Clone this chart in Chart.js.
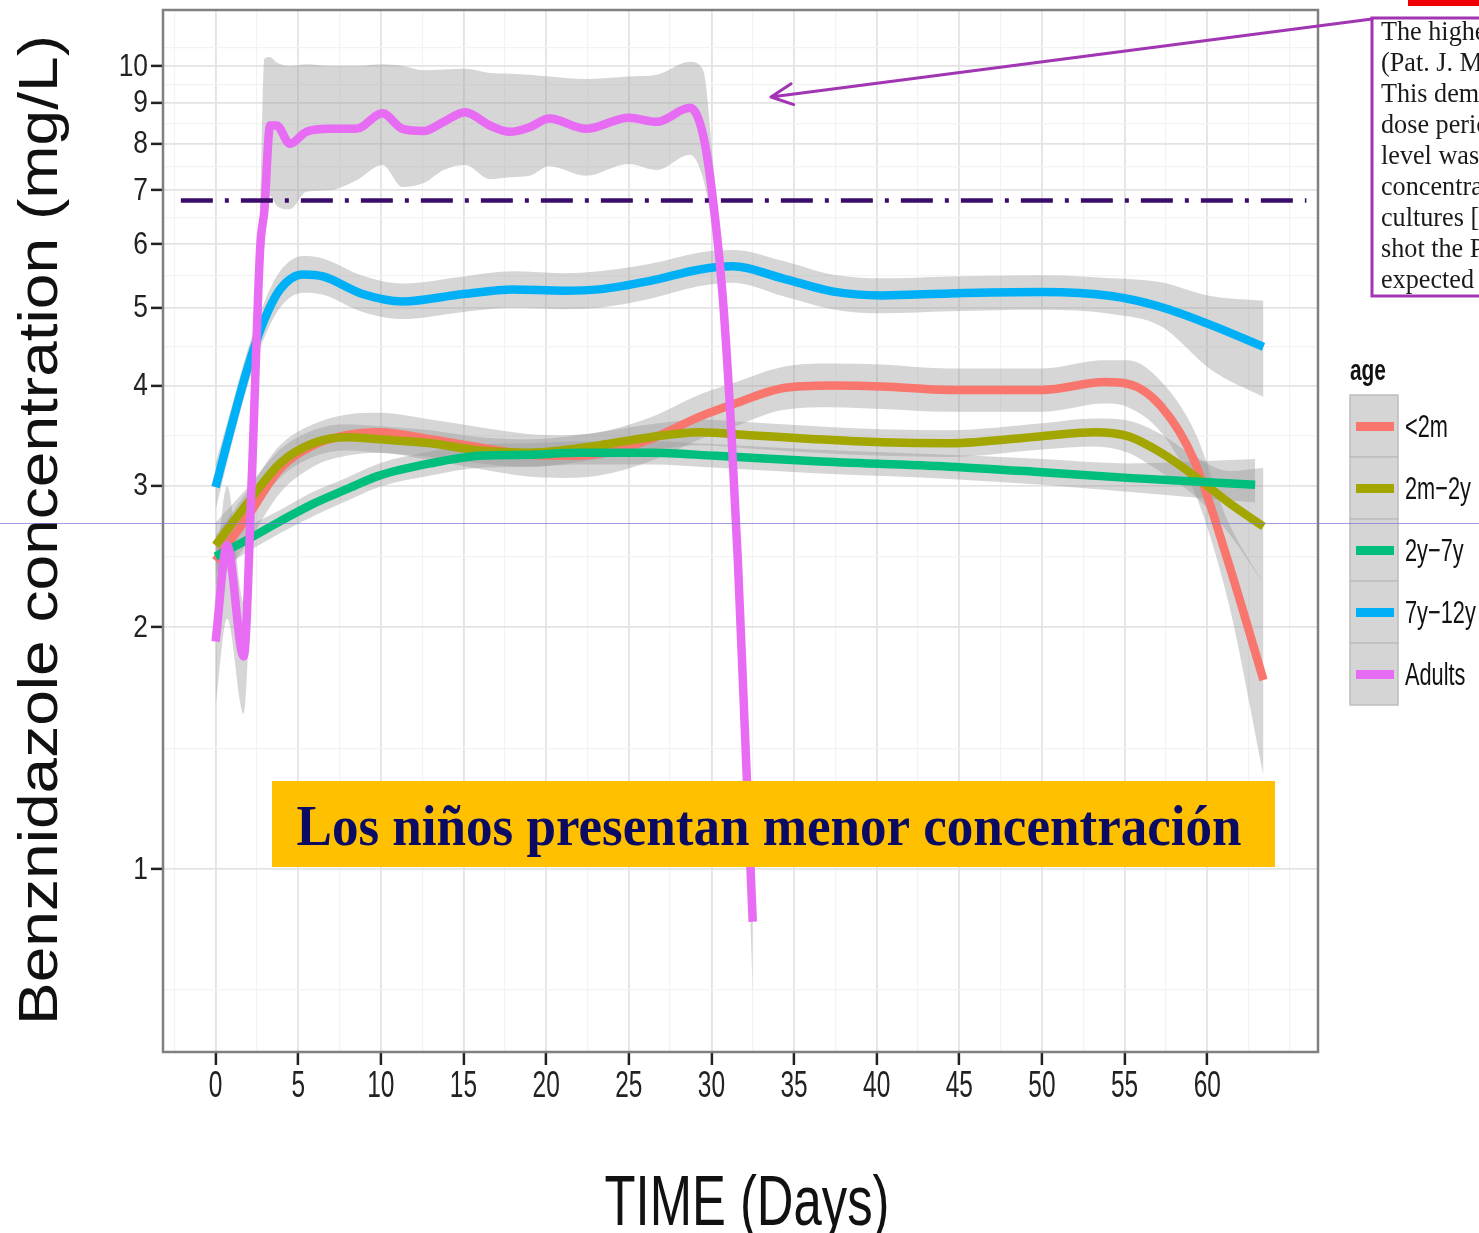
<!DOCTYPE html>
<html>
<head>
<meta charset="utf-8">
<script src="https://cdn.jsdelivr.net/npm/chart.js@4.4.1/dist/chart.umd.min.js"></script>
<style>
  html, body { margin: 0; padding: 0; background: #fff; }
  canvas { display: block; }
</style>
</head>
<body>
<canvas id="grafico" width="1479" height="1233"></canvas>
<script>
// grupos de edad y colores (paleta ggplot)
const grupos = ["<2m", "2m\u22122y", "2y\u22127y", "7y\u221212y", "Adults"];
const colores = ["#F8766D", "#A3A500", "#00BF7D", "#00B0F6", "#E76BF3"];

// <2m
const diasRojo = [0, 1.9, 3.9, 5.9, 7.9, 9.9, 13, 16, 19, 21, 23.2, 26.3, 29.3, 31.3, 34.3, 37.3, 40.3, 44.4, 50, 53.8, 55.2, 57.2, 59.2, 61.3, 63.4];
const rojo      = [2.42, 2.74, 3.15, 3.37, 3.47, 3.5, 3.43, 3.35, 3.28, 3.27, 3.29, 3.43, 3.66, 3.79, 3.97, 4.0, 3.99, 3.95, 3.95, 4.04, 4.02, 3.77, 3.23, 2.4, 1.72];
const rojoAlto  = [2.6, 2.95, 3.37, 3.58, 3.68, 3.7, 3.63, 3.55, 3.48, 3.47, 3.5, 3.65, 3.9, 4.03, 4.22, 4.26, 4.25, 4.2, 4.2, 4.3, 4.3, 4.05, 3.52, 2.7, 2.27];
const rojoBajo  = [2.25, 2.54, 2.94, 3.17, 3.27, 3.3, 3.23, 3.15, 3.08, 3.07, 3.09, 3.22, 3.43, 3.55, 3.73, 3.76, 3.74, 3.71, 3.71, 3.8, 3.76, 3.5, 2.96, 2.14, 1.31];

// 2m-2y
const diasOliva = [0, 1.9, 3.9, 5.9, 7.9, 9.9, 13, 16, 19, 23.2, 26.3, 29.3, 32.3, 36.3, 40.3, 44.4, 50, 53.2, 55.2, 57.2, 59.2, 61.3, 63.4];
const oliva      = [2.53, 2.85, 3.2, 3.39, 3.45, 3.43, 3.39, 3.32, 3.3, 3.37, 3.45, 3.5, 3.47, 3.43, 3.4, 3.39, 3.46, 3.5, 3.46, 3.3, 3.09, 2.86, 2.67];
const olivaAlto  = [2.7, 2.98, 3.33, 3.52, 3.58, 3.56, 3.52, 3.45, 3.43, 3.5, 3.58, 3.63, 3.6, 3.56, 3.53, 3.52, 3.59, 3.64, 3.62, 3.48, 3.27, 3.13, 3.16];
const olivaBajo  = [2.37, 2.72, 3.07, 3.26, 3.32, 3.3, 3.26, 3.2, 3.17, 3.24, 3.32, 3.37, 3.34, 3.3, 3.27, 3.26, 3.33, 3.36, 3.3, 3.12, 2.92, 2.62, 2.27];

// 2y-7y
const diasVerde = [0, 1.9, 3.9, 5.9, 7.9, 9.9, 13, 16, 19, 22, 26.3, 30.3, 36.3, 44.4, 50, 55.2, 62.9];
const verde      = [2.45, 2.57, 2.71, 2.85, 2.97, 3.09, 3.2, 3.27, 3.28, 3.3, 3.3, 3.27, 3.22, 3.17, 3.12, 3.07, 3.01];
const verdeAlto  = [2.56, 2.67, 2.8, 2.95, 3.07, 3.2, 3.31, 3.38, 3.39, 3.41, 3.41, 3.38, 3.33, 3.28, 3.24, 3.2, 3.24];
const verdeBajo  = [2.34, 2.48, 2.62, 2.75, 2.87, 2.99, 3.09, 3.16, 3.17, 3.19, 3.19, 3.16, 3.11, 3.06, 3.01, 2.95, 2.86];

// 7y-12y
const diasAzul = [0, 0.9, 1.9, 2.9, 3.9, 5.3, 6.5, 8.9, 11.3, 15, 18, 21, 23.2, 26.3, 29.3, 31.3, 34.3, 37.3, 40.3, 44.4, 50, 54.2, 57.2, 60.2, 63.4];
const azul      = [2.99, 3.52, 4.18, 4.8, 5.27, 5.5, 5.47, 5.2, 5.09, 5.2, 5.27, 5.25, 5.27, 5.4, 5.58, 5.63, 5.44, 5.24, 5.18, 5.21, 5.23, 5.17, 5.01, 4.76, 4.47];
const azulAlto  = [3.2, 3.72, 4.4, 5.05, 5.55, 5.8, 5.76, 5.48, 5.36, 5.47, 5.55, 5.52, 5.55, 5.67, 5.86, 5.9, 5.72, 5.5, 5.44, 5.47, 5.49, 5.44, 5.38, 5.17, 5.1];
const azulBajo  = [2.8, 3.33, 3.97, 4.56, 5.0, 5.22, 5.19, 4.94, 4.84, 4.94, 5.0, 4.98, 5.0, 5.13, 5.32, 5.37, 5.17, 4.98, 4.92, 4.95, 4.97, 4.91, 4.74, 4.19, 3.87];

// Adults
const diasRosa = [0, 0.7, 1.7, 2.2, 2.7, 2.95, 3.3, 3.7, 4.5, 5.5, 6.9, 8.5, 10.1, 11.3, 12.6, 13.8, 15.1, 16.6, 17.8, 19, 20.2, 22.4, 25, 26.7, 28.7, 29.5, 30.1, 30.7, 31.2, 31.6, 32, 32.5];
const rosa      = [1.92, 2.53, 1.84, 3.1, 5.94, 6.6, 8.43, 8.43, 8.0, 8.28, 8.35, 8.35, 8.73, 8.35, 8.3, 8.52, 8.76, 8.43, 8.28, 8.39, 8.6, 8.35, 8.62, 8.52, 8.87, 8.2, 6.8, 5.11, 3.52, 2.42, 1.53, 0.86];
const rosaAlto  = [2.3, 3.0, 2.15, 3.7, 6.6, 10.2, 10.26, 10.1, 10.0, 10.05, 10.0, 10.0, 10.05, 10.0, 9.88, 9.9, 9.92, 9.8, 9.78, 9.75, 9.7, 9.63, 9.7, 9.75, 10.12, 9.88, 7.6, 5.4, 3.7, 2.55, 1.6, 0.9];
const rosaBajo  = [1.58, 2.05, 1.56, 2.5, 5.3, 6.0, 6.89, 6.7, 6.63, 6.97, 7.0, 7.2, 7.53, 7.07, 7.15, 7.42, 7.53, 7.23, 7.27, 7.3, 7.5, 7.3, 7.55, 7.42, 7.75, 7.23, 6.2, 4.85, 3.35, 2.3, 1.45, 0.7];

// linea de referencia
const umbral = 6.8;
const diasUmbral = [-2.1, 66];

// ejes
const ticksX = [0, 5, 10, 15, 20, 25, 30, 35, 40, 45, 50, 55, 60];
const menoresX = [-2.5, 2.5, 7.5, 12.5, 17.5, 22.5, 27.5, 32.5, 37.5, 42.5, 47.5, 52.5, 57.5, 62.5, 65];
const ticksY = [1, 2, 3, 4, 5, 6, 7, 8, 9, 10];
const menoresY = [0.707, 1.414, 2.449, 3.464, 4.472, 5.477, 6.481, 7.483, 8.485, 9.487, 10.54];

const textoCaja = ["The highest", "(Pat. J. Mo", "This demonstrates", "dose period", "level was", "concentration", "cultures [4", "shot the P", "expected to"];

function puntos(xs, ys) {
    return xs.map((x, i) => ({ x: x, y: ys[i] }));
}

const series = [
    { label: grupos[0], color: colores[0], x: diasRojo, y: rojo, lo: rojoBajo, hi: rojoAlto, order: 5 },
    { label: grupos[1], color: colores[1], x: diasOliva, y: oliva, lo: olivaBajo, hi: olivaAlto, order: 4 },
    { label: grupos[2], color: colores[2], x: diasVerde, y: verde, lo: verdeBajo, hi: verdeAlto, order: 3 },
    { label: grupos[3], color: colores[3], x: diasAzul, y: azul, lo: azulBajo, hi: azulAlto, order: 2 },
    { label: grupos[4], color: colores[4], x: diasRosa, y: rosa, lo: rosaBajo, hi: rosaAlto, order: 1 }
];

const datasets = [];
series.forEach(s => {
    datasets.push({
        data: puntos(s.x, s.lo), borderColor: "rgba(0,0,0,0)", borderWidth: 1,
        pointRadius: 0, fill: false, order: 20, cubicInterpolationMode: "monotone"
    });
    datasets.push({
        data: puntos(s.x, s.hi), borderColor: "rgba(0,0,0,0)", borderWidth: 1,
        pointRadius: 0, fill: "-1", backgroundColor: "rgba(153,153,153,0.4)",
        order: 20, cubicInterpolationMode: "monotone"
    });
});
series.forEach(s => {
    datasets.push({
        label: s.label, esSerie: true, data: puntos(s.x, s.y),
        borderColor: s.color, borderWidth: 8.5, pointRadius: 0, fill: false,
        order: s.order, cubicInterpolationMode: "monotone", borderJoinStyle: "round"
    });
});
datasets.push({
    data: puntos(diasUmbral, [umbral, umbral]), borderColor: "#3b0d6b", borderWidth: 4.5,
    borderDash: [32, 12, 4, 12], pointRadius: 0, fill: false, order: -1
});

function texto(ctx, str, x, y, font, sx, align, color, base) {
    ctx.save();
    ctx.font = font;
    ctx.fillStyle = color;
    ctx.textAlign = align;
    ctx.textBaseline = base || "alphabetic";
    ctx.translate(x, y);
    ctx.scale(sx, 1);
    ctx.fillText(str, 0, 0);
    ctx.restore();
}

function textoAncho(ctx, str, x, y, font, ancho, color) {
    ctx.save();
    ctx.font = font;
    const w = ctx.measureText(str).width;
    ctx.restore();
    texto(ctx, str, x, y, font, ancho / w, "center", color);
}

const adornos = {
    id: "adornos",
    afterDraw(chart) {
        const ctx = chart.ctx;
        const a = chart.chartArea;
        const sx = chart.scales.x, sy = chart.scales.y;

        // borde del panel
        ctx.save();
        ctx.strokeStyle = "#808080";
        ctx.lineWidth = 2.5;
        ctx.strokeRect(a.left, a.top, a.right - a.left, a.bottom - a.top);
        ctx.restore();

        // etiquetas de los ejes
        ticksX.forEach(v => {
            texto(ctx, String(v), sx.getPixelForValue(v), 1097, "36px 'Liberation Sans', Arial", 0.68, "center", "#222");
        });
        ticksY.forEach(v => {
            texto(ctx, String(v), 148, sy.getPixelForValue(v) + 1, "31px 'Liberation Sans', Arial", 0.85, "right", "#222", "middle");
        });

        // titulos
        textoAncho(ctx, "TIME (Days)", 747, 1225, "70px 'Liberation Sans', Arial", 285, "#111");
        ctx.save();
        ctx.translate(57, 530);
        ctx.rotate(-Math.PI / 2);
        ctx.font = "56px 'Liberation Sans', Arial";
        const wy = ctx.measureText("Benznidazole concentration (mg/L)").width;
        ctx.scale(990 / wy, 1);
        ctx.fillStyle = "#111";
        ctx.textAlign = "center";
        ctx.fillText("Benznidazole concentration (mg/L)", 0, 0);
        ctx.restore();

        // leyenda
        texto(ctx, "age", 1350, 380, "bold 29px 'Liberation Sans', Arial", 0.72, "left", "#111");
        const lineas = chart.data.datasets.filter(d => d.esSerie);
        lineas.forEach((d, i) => {
            const top = 395 + i * 62;
            ctx.save();
            ctx.fillStyle = "#d5d5d5";
            ctx.fillRect(1350, top, 48, 62);
            ctx.strokeStyle = "#bdbdbd";
            ctx.lineWidth = 1.5;
            ctx.strokeRect(1350, top, 48, 62);
            ctx.fillStyle = d.borderColor;
            ctx.fillRect(1356, top + 27, 38, 9);
            ctx.restore();
            texto(ctx, d.label, 1405, top + 42, "32px 'Liberation Sans', Arial", 0.68, "left", "#111");
        });

        // cuadro amarillo
        ctx.save();
        ctx.fillStyle = "#FFC000";
        ctx.fillRect(272, 781, 1003, 86);
        ctx.restore();
        textoAncho(ctx, "Los niños presentan menor concentración", 769, 845, "bold 58px 'Liberation Serif', 'Times New Roman', serif", 945, "#0b0b64");

        // cuadro de texto arriba a la derecha
        ctx.save();
        ctx.fillStyle = "#ee0000";
        ctx.fillRect(1408, 0, 71, 6);
        ctx.strokeStyle = "#a135b3";
        ctx.lineWidth = 3;
        ctx.strokeRect(1372, 18, 140, 278);
        ctx.restore();
        textoCaja.forEach((t, i) => {
            texto(ctx, t, 1381, 40 + i * 31, "27px 'Liberation Serif', 'Times New Roman', serif", 0.97, "left", "#1a1a1a");
        });

        // flecha
        ctx.save();
        ctx.strokeStyle = "#a135b3";
        ctx.lineWidth = 3;
        ctx.lineCap = "round";
        ctx.beginPath();
        ctx.moveTo(1372, 19);
        ctx.lineTo(771, 97);
        const ang = Math.atan2(19 - 97, 1372 - 771);
        [0.45, -0.45].forEach(da => {
            ctx.moveTo(771, 97);
            ctx.lineTo(771 + 24 * Math.cos(ang + da), 97 + 24 * Math.sin(ang + da));
        });
        ctx.stroke();
        ctx.restore();

        // linea fina horizontal
        ctx.save();
        ctx.strokeStyle = "rgba(120,120,210,0.7)";
        ctx.lineWidth = 1;
        ctx.beginPath();
        ctx.moveTo(0, 523.5);
        ctx.lineTo(1479, 523.5);
        ctx.stroke();
        ctx.restore();
    }
};

const esMenor = c => c.tick && c.tick.minor;

new Chart(document.getElementById("grafico"), {
    type: "line",
    data: { datasets: datasets },
    options: {
        responsive: false,
        animation: false,
        layout: { padding: { top: 10, right: 161, left: 0, bottom: 0 } },
        plugins: { legend: { display: false }, tooltip: { enabled: false } },
        scales: {
            x: {
                type: "linear", min: -3.18, max: 66.7,
                afterBuildTicks: s => {
                    s.ticks = ticksX.map(v => ({ value: v }))
                        .concat(menoresX.map(v => ({ value: v, minor: true })))
                        .sort((p, q) => p.value - q.value);
                },
                afterFit: s => { s.height = 181; },
                ticks: { display: false },
                border: { display: false },
                grid: {
                    color: c => esMenor(c) ? "#f3f3f3" : "#e3e3e3",
                    lineWidth: c => esMenor(c) ? 1.2 : 1.8,
                    tickColor: c => esMenor(c) ? "rgba(0,0,0,0)" : "#222",
                    tickWidth: 2.5, tickLength: 13
                }
            },
            y: {
                type: "logarithmic", min: 0.592, max: 11.74,
                afterBuildTicks: s => {
                    s.ticks = ticksY.map(v => ({ value: v }))
                        .concat(menoresY.map(v => ({ value: v, minor: true })))
                        .sort((p, q) => p.value - q.value);
                },
                afterFit: s => { s.width = 163; },
                ticks: { display: false },
                border: { display: false },
                grid: {
                    color: c => esMenor(c) ? "#f3f3f3" : "#e3e3e3",
                    lineWidth: c => esMenor(c) ? 1.2 : 1.8,
                    tickColor: c => esMenor(c) ? "rgba(0,0,0,0)" : "#222",
                    tickWidth: 2.5, tickLength: 12
                }
            }
        }
    },
    plugins: [adornos]
});
</script>
</body>
</html>
